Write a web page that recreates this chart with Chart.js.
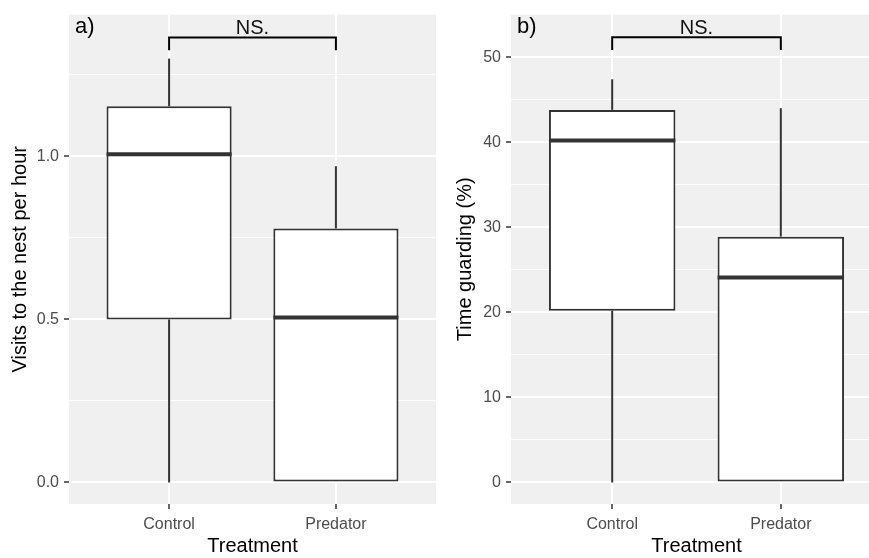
<!DOCTYPE html>
<html><head><meta charset="utf-8">
<script src="https://cdn.jsdelivr.net/npm/chart.js@4.4.1/dist/chart.umd.min.js"></script>
<style>
html,body{margin:0;padding:0;background:#fff;overflow:hidden;width:869px;height:558px;position:relative}
#wa{position:absolute;left:0;top:0;width:440px;height:558px}
#wb{position:absolute;left:440px;top:0;width:450px;height:558px}
</style></head><body>
<div id="wa"><canvas id="ca"></canvas></div>
<div id="wb"><canvas id="cb"></canvas></div>
<script>
// ---------- data ----------
const categories = ['Control', 'Predator'];
const xTitle = 'Treatment';
const significanceLabel = 'NS.';

// panel a) Visits to the nest per hour
const visitsLowerWhisker = [0, 0];
const visitsQ1 = [0.50, 0];
const visitsMedian = [1.007, 0.506];
const visitsQ3 = [1.154, 0.779];
const visitsUpperWhisker = [1.30, 0.97];
const visitsTicks = [0, 0.5, 1.0];
const visitsMinorTicks = [0.25, 0.75, 1.25];
const visitsRange = [-0.066, 1.435];
const visitsBracket = [1.326, 1.365];

// panel b) Time guarding (%)
const guardLowerWhisker = [0, 0];
const guardQ1 = [20.2, 0];
const guardMedian = [40.2, 24.1];
const guardQ3 = [43.8, 28.9];
const guardUpperWhisker = [47.4, 44.0];
const guardTicks = [0, 10, 20, 30, 40, 50];
const guardMinorTicks = [5, 15, 25, 35, 45];
const guardRange = [-2.53, 55.0];
const guardBracket = [50.85, 52.33];

// ---------- drawing ----------
const FONT = "'Liberation Sans', Arial, sans-serif";
const INK = '#333333';

const bgPlugin = {
  id: 'panelBg',
  beforeDraw(chart) {
    const {ctx, chartArea: a} = chart;
    ctx.save();
    ctx.fillStyle = '#F0F0F0';
    ctx.fillRect(a.left, a.top, a.right - a.left, a.bottom - a.top);
    ctx.restore();
  }
};

const boxPlugin = {
  id: 'boxExtras',
  afterDatasetsDraw(chart) {
    const c = chart.config.options.plugins.boxExtras;
    const {ctx, chartArea: a} = chart;
    const xs = chart.scales.x, ys = chart.scales.y;
    const meta = chart.getDatasetMeta(0);
    ctx.save();
    ctx.lineCap = 'butt';
    categories.forEach((cat, i) => {
      const px = xs.getPixelForValue(i);
      ctx.strokeStyle = INK;
      ctx.lineWidth = 2;
      if (c.upper[i] > c.q3[i]) {
        ctx.beginPath();
        ctx.moveTo(px, ys.getPixelForValue(c.q3[i]));
        ctx.lineTo(px, ys.getPixelForValue(c.upper[i]));
        ctx.stroke();
      }
      if (c.lower[i] < c.q1[i]) {
        ctx.beginPath();
        ctx.moveTo(px, ys.getPixelForValue(c.q1[i]));
        ctx.lineTo(px, ys.getPixelForValue(c.lower[i]));
        ctx.stroke();
      }
      const bar = meta.data[i];
      const hw = bar.width / 2;
      ctx.lineWidth = 4;
      ctx.beginPath();
      const my = ys.getPixelForValue(c.median[i]);
      ctx.moveTo(bar.x - hw, my);
      ctx.lineTo(bar.x + hw, my);
      ctx.stroke();
    });
    const x0 = xs.getPixelForValue(0), x1 = xs.getPixelForValue(1);
    const yEnd = ys.getPixelForValue(c.bracket[0]);
    const yTop = ys.getPixelForValue(c.bracket[1]);
    ctx.strokeStyle = '#000';
    ctx.lineWidth = 2;
    ctx.beginPath();
    ctx.moveTo(x0, yEnd);
    ctx.lineTo(x0, yTop);
    ctx.lineTo(x1, yTop);
    ctx.lineTo(x1, yEnd);
    ctx.stroke();
    ctx.fillStyle = '#111';
    ctx.font = '20px ' + FONT;
    ctx.textAlign = 'center';
    ctx.textBaseline = 'alphabetic';
    ctx.fillText(significanceLabel, (x0 + x1) / 2, yTop - 3.5);
    ctx.fillStyle = '#000';
    ctx.font = '22px ' + FONT;
    ctx.textAlign = 'left';
    ctx.fillText(c.label, a.left + 6, 33);
    ctx.restore();
  }
};

function makeChart(id, cfg) {
  const boxData = categories.map((cat, i) => ({x: i, y: [cfg.q1[i], cfg.q3[i]]}));
  const isMajor = v => cfg.ticks.some(t => Math.abs(t - v) < 1e-9);
  return new Chart(document.getElementById(id), {
    type: 'bar',
    data: {
      datasets: [{
        data: boxData,
        backgroundColor: '#FFFFFF',
        borderColor: INK,
        borderWidth: 2,
        borderSkipped: false,
        barPercentage: 0.75,
        categoryPercentage: 1,
        grouped: false
      }]
    },
    options: {
      responsive: true,
      maintainAspectRatio: false,
      animation: false,
      events: [],
      layout: {padding: {top: 11, right: cfg.padRight, left: 0, bottom: 0}},
      plugins: {
        legend: {display: false},
        tooltip: {enabled: false},
        boxExtras: {
          lower: cfg.lower, q1: cfg.q1, median: cfg.median, q3: cfg.q3, upper: cfg.upper,
          bracket: cfg.bracket, label: cfg.label
        }
      },
      scales: {
        x: {
          type: 'linear',
          min: -0.6, max: 1.6,
          bounds: 'data',
          offset: false,
          afterBuildTicks: s => { s.ticks = categories.map((cat, i) => ({value: i})); },
          ticks: {
            callback: v => categories[Math.round(v)],
            color: '#4D4D4D',
            font: {family: FONT, size: 16},
            padding: 6,
            maxRotation: 0,
            autoSkip: false
          },
          grid: {offset: false, color: '#FFFFFF', lineWidth: 2, tickColor: INK, tickLength: 5, tickWidth: 1.5},
          border: {display: false},
          title: {display: true, text: xTitle, color: '#000', font: {family: FONT, size: 20}, padding: {top: 0, bottom: 0}},
          afterFit: s => { s.height = 54; }
        },
        y: {
          type: 'linear',
          min: cfg.range[0], max: cfg.range[1],
          bounds: 'data',
          afterBuildTicks: s => {
            s.ticks = cfg.ticks.concat(cfg.minor).sort((p, q) => p - q).map(v => ({value: v}));
          },
          ticks: {
            callback: v => isMajor(v) ? cfg.fmt(v) : '',
            color: '#4D4D4D',
            font: {family: FONT, size: 16},
            padding: 5,
            autoSkip: false
          },
          grid: {
            color: '#FFFFFF',
            lineWidth: ctx => (ctx.tick && isMajor(ctx.tick.value)) ? 2 : 1,
            tickColor: ctx => (ctx.tick && isMajor(ctx.tick.value)) ? INK : 'rgba(0,0,0,0)',
            tickLength: 5,
            tickWidth: 1.5
          },
          border: {display: false},
          title: {display: true, text: cfg.yTitle, color: '#000', font: {family: FONT, size: 20}, padding: {top: cfg.titlePad, bottom: 0}},
          afterFit: s => { s.width = cfg.axisW; }
        }
      }
    },
    plugins: [bgPlugin, boxPlugin]
  });
}

makeChart('ca', {
  lower: visitsLowerWhisker, q1: visitsQ1, median: visitsMedian, q3: visitsQ3, upper: visitsUpperWhisker,
  ticks: visitsTicks, minor: visitsMinorTicks, range: visitsRange, bracket: visitsBracket,
  fmt: v => v.toFixed(1), yTitle: 'Visits to the nest per hour', label: 'a)',
  axisW: 69, padRight: 4, titlePad: 8
});
makeChart('cb', {
  lower: guardLowerWhisker, q1: guardQ1, median: guardMedian, q3: guardQ3, upper: guardUpperWhisker,
  ticks: guardTicks, minor: guardMinorTicks, range: guardRange, bracket: guardBracket,
  fmt: v => String(v), yTitle: 'Time guarding (%)', label: 'b)',
  axisW: 71, padRight: 8, titlePad: 13
});
</script>
</body></html>
